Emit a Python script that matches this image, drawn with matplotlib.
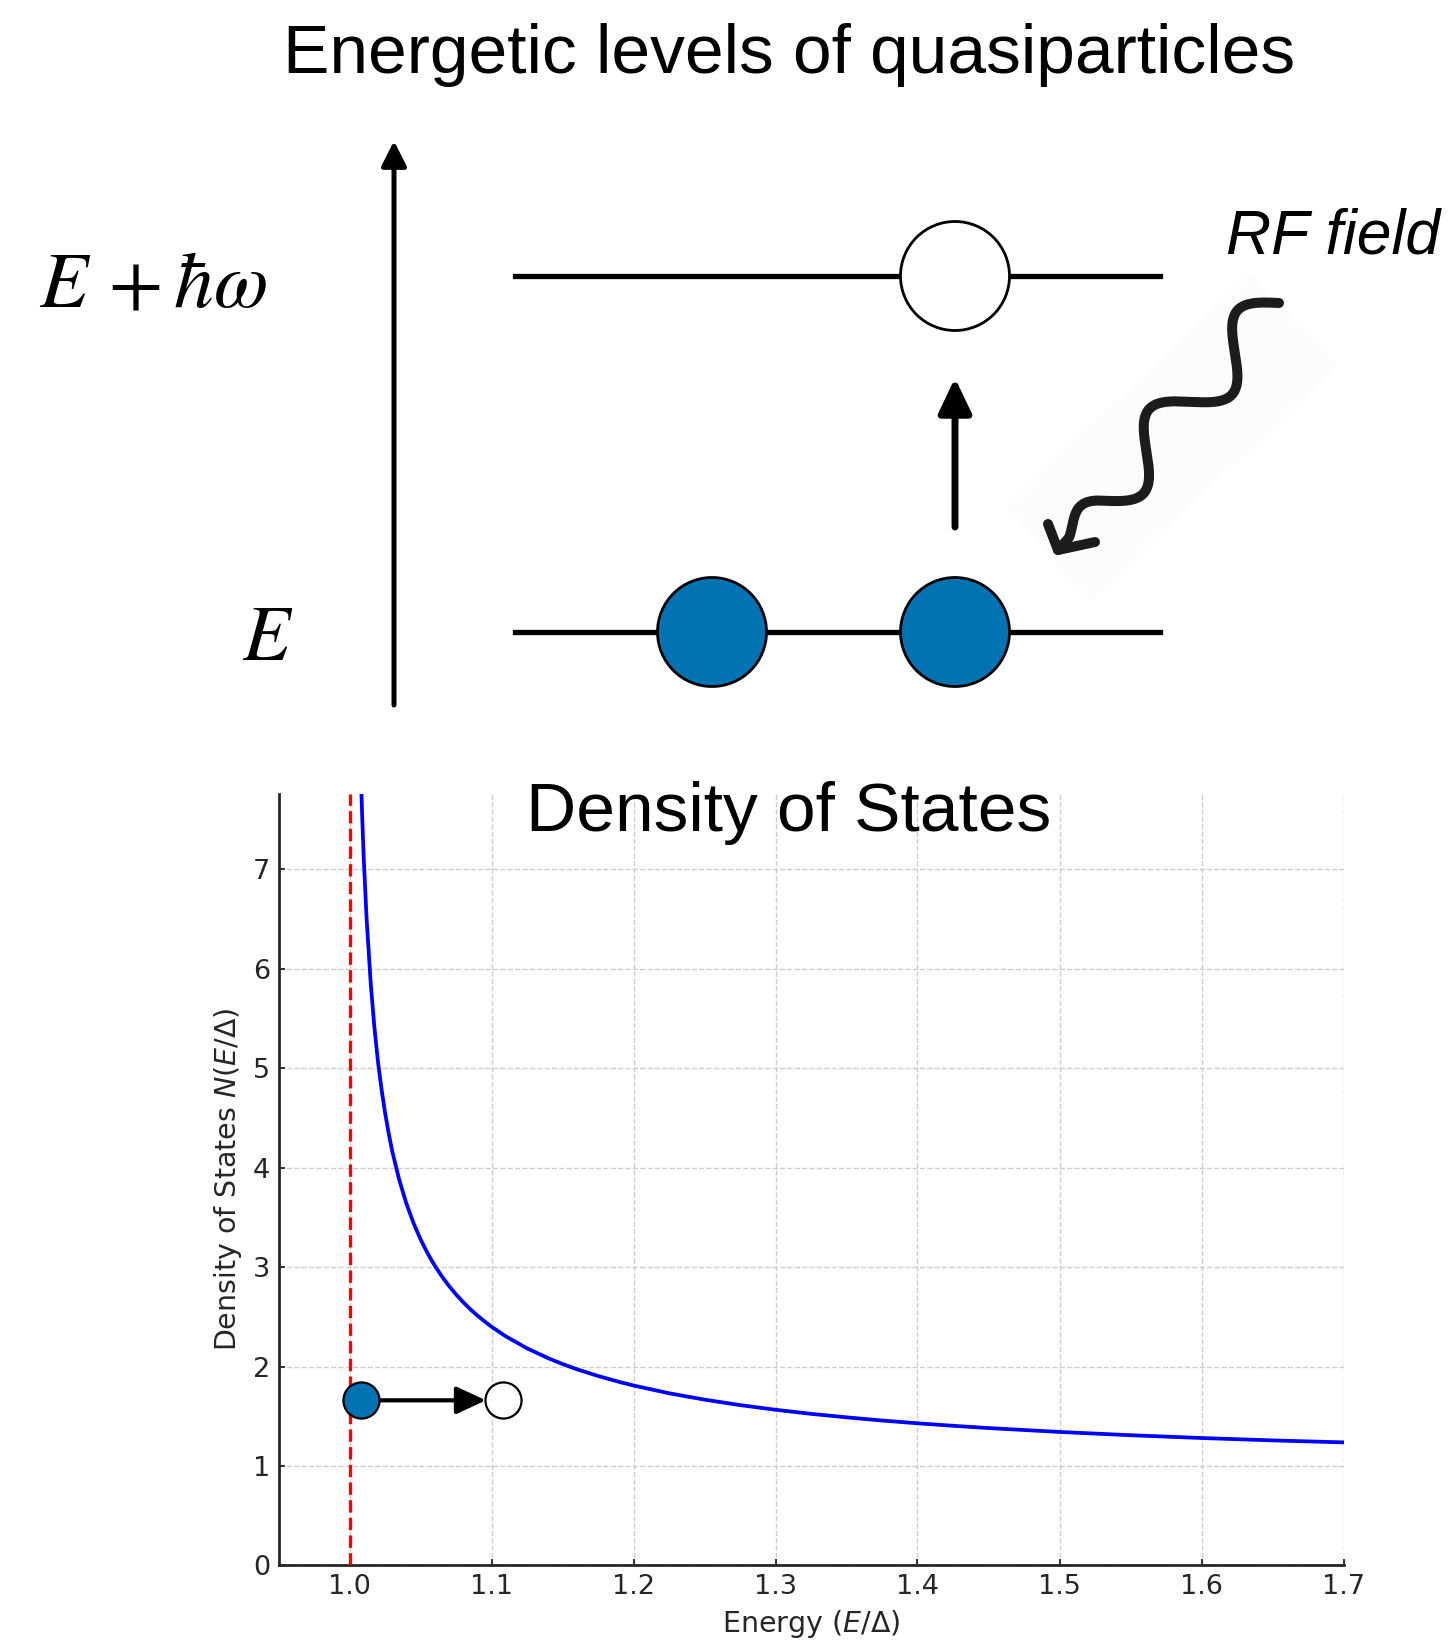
import numpy as np
import matplotlib
matplotlib.use("Agg")
import matplotlib.pyplot as plt
from matplotlib.patches import Circle, Polygon

# density of states
energy = [1.006, 1.007, 1.008, 1.009, 1.010, 1.012, 1.015, 1.0175, 1.020, 1.0225,
          1.025, 1.0275, 1.030, 1.035, 1.040, 1.045, 1.050, 1.055, 1.060, 1.065,
          1.070, 1.075, 1.080, 1.085, 1.090, 1.095, 1.100, 1.110, 1.125, 1.140,
          1.150, 1.160, 1.175, 1.190, 1.200, 1.225, 1.250, 1.275, 1.300, 1.325,
          1.350, 1.375, 1.400, 1.425, 1.450, 1.500, 1.550, 1.600, 1.650, 1.700]
dos = [9.17, 8.496, 7.95, 7.504, 7.12, 6.513, 5.84, 5.415, 5.07, 4.793,
       4.556, 4.351, 4.17, 3.878, 3.641, 3.445, 3.280, 3.138, 3.015, 2.907,
       2.811, 2.725, 2.648, 2.577, 2.513, 2.455, 2.400, 2.304, 2.183, 2.083,
       2.025, 1.973, 1.905, 1.845, 1.809, 1.731, 1.667, 1.612, 1.565, 1.524,
       1.489, 1.457, 1.429, 1.404, 1.381, 1.342, 1.309, 1.281, 1.257, 1.237]
gap = 1.0
filled_state = (1.008, 1.66)
empty_state = (1.108, 1.66)
arrow_tip_x = 1.096

xticks = [1.0, 1.1, 1.2, 1.3, 1.4, 1.5, 1.6, 1.7]
yticks = [0, 1, 2, 3, 4, 5, 6, 7]

blue = "#0173B2"
W, H = 1450, 1642

fig = plt.figure(figsize=(W / 100, H / 100), dpi=100)

#%% top: level scheme, drawn in figure pixels
ax0 = fig.add_axes([0, 0, 1, 1])
ax0.set_xlim(0, W)
ax0.set_ylim(H, 0)
ax0.axis("off")

# energy axis
ax0.annotate("", xy=(394, 141), xytext=(394, 705),
             arrowprops=dict(arrowstyle="-|>,head_length=0.75,head_width=0.38",
                             lw=3.6, color="black", mutation_scale=20,
                             shrinkA=0, shrinkB=0))
# levels
y_up, y_low = 276, 632
ax0.plot([515, 1160], [y_up, y_up], color="black", lw=3.8, zorder=2)
ax0.plot([515, 1160], [y_low, y_low], color="black", lw=3.8, zorder=2)

r = 54.5
ax0.add_patch(Circle((955, y_up), r, facecolor="white", edgecolor="black", lw=2, zorder=3))
ax0.add_patch(Circle((712, y_low), r, facecolor=blue, edgecolor="black", lw=2, zorder=3))
ax0.add_patch(Circle((955, y_low), r, facecolor=blue, edgecolor="black", lw=2, zorder=3))

# excitation arrow
ax0.annotate("", xy=(955, 378), xytext=(955, 527),
             arrowprops=dict(arrowstyle="-|>,head_length=1.05,head_width=0.5",
                             lw=5, color="black", mutation_scale=20,
                             shrinkA=0, shrinkB=0))

ax0.text(39, 307, r"$E\,+\hbar\omega$", fontsize=57, math_fontfamily="stix",
         ha="left", va="baseline")
ax0.text(242, 660, r"$E$", fontsize=56, math_fontfamily="stix",
         ha="left", va="baseline")
ax0.text(1226, 253, "RF field", fontsize=45, family="Liberation Sans",
         style="italic", ha="left", va="baseline")

# wavy photon arrow (faint backing square first)
ax0.add_patch(Polygon([(1250, 273), (1337, 367), (1090, 600), (1007, 507)],
                      closed=True, facecolor="#fcfcfc", edgecolor="none", zorder=1))
S = np.array([1279.0, 303.0])
tip = np.array([1058.0, 550.0])
L = np.linalg.norm(tip - S)
d = (tip - S) / L
n = np.array([-d[1], d[0]])
if n[1] > 0:
    n = -n
t = np.linspace(0, 1, 400)
env = np.clip((0.95 - t) / 0.15, 0, 1)
wave = (S[None, :] + t[:, None] * (tip - S)[None, :]
        + 26 * env[:, None] * np.sin(2 * np.pi * 2 * t / 0.8)[:, None] * n[None, :])
ax0.plot(wave[:, 0], wave[:, 1], color="#1c1c1c", lw=7.2, solid_capstyle="round", zorder=2)
ax0.plot([tip[0] - 10, tip[0], tip[0] + 37], [tip[1] - 26, tip[1], tip[1] - 8],
         color="#1c1c1c", lw=7.2, solid_capstyle="round", solid_joinstyle="round", zorder=2)

#%% bottom: density of states
ax = fig.add_axes([278.5 / W, 1 - 1565.4 / H, (1343.5 - 278.5) / W, (1565.4 - 793.7) / H])
ax.plot(energy, dos, color="blue", lw=2.7, zorder=3)
ax.axvline(gap, color="red", ls="--", lw=2.4, zorder=3)

ax.annotate("", xy=(arrow_tip_x, filled_state[1]), xytext=filled_state,
            arrowprops=dict(arrowstyle="-|>,head_length=0.9,head_width=0.42",
                            lw=3, color="black", mutation_scale=20,
                            shrinkA=0, shrinkB=0), zorder=4)
ax.plot(*filled_state, "o", ms=26, mfc=blue, mec="black", mew=1.6, zorder=5)
ax.plot(*empty_state, "o", ms=26, mfc="white", mec="black", mew=1.6, zorder=5)

ax.set_xlim(0.95, 1.7)
ax.set_ylim(0, 7.76)
ax.set_xticks(xticks)
ax.set_yticks(yticks)
ax.grid(True, color="#cccccc", ls="--", lw=1)
ax.set_axisbelow(True)
for side in ["top", "right"]:
    ax.spines[side].set_visible(False)
for side in ["left", "bottom"]:
    ax.spines[side].set_color("#262626")
    ax.spines[side].set_linewidth(2)
ax.tick_params(direction="in", length=4, width=1.3, colors="#262626",
               labelsize=19.5, pad=6)
ax.set_xlabel(r"Energy $(E/\Delta)$", fontsize=20.5, color="#262626", labelpad=6)
ax.set_ylabel(r"Density of States $N(E/\Delta)$", fontsize=20.5, color="#262626", labelpad=6)

fig.text(789 / W, 1 - 73 / H, "Energetic levels of quasiparticles", fontsize=50,
         family="Liberation Sans", ha="center", va="baseline")
fig.text(789 / W, 1 - 831 / H, "Density of States", fontsize=50,
         family="Liberation Sans", ha="center", va="baseline", zorder=10)

fig.savefig("out.png", dpi=100)
